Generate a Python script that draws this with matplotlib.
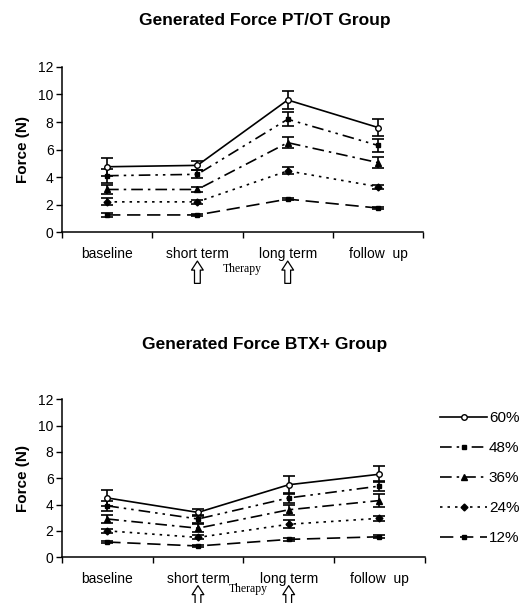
import matplotlib.pyplot as plt

plt.rcParams['font.family'] = ['Liberation Sans', 'DejaVu Sans']

categories = ['baseline', 'short term', 'long term', 'follow  up']
series_names = ['60%', '48%', '36%', '24%', '12%']

# PT/OT group: mean force and error per intensity
ptot_means = [
    [4.75, 4.85, 9.6, 7.6],
    [4.1, 4.2, 8.2, 6.3],
    [3.1, 3.1, 6.5, 5.05],
    [2.2, 2.2, 4.45, 3.3],
    [1.25, 1.25, 2.4, 1.75],
]
ptot_errors = [
    [0.65, 0.35, 0.65, 0.65],
    [0.5, 0.3, 0.5, 0.5],
    [0.35, 0.2, 0.4, 0.4],
    [0.25, 0.15, 0.25, 0.15],
    [0.15, 0.1, 0.1, 0.1],
]

# BTX+ group
btx_means = [
    [4.5, 3.4, 5.5, 6.3],
    [3.9, 2.9, 4.5, 5.4],
    [2.9, 2.2, 3.6, 4.3],
    [2.0, 1.5, 2.5, 2.95],
    [1.15, 0.85, 1.35, 1.55],
]
btx_errors = [
    [0.6, 0.25, 0.7, 0.6],
    [0.4, 0.3, 0.4, 0.4],
    [0.3, 0.3, 0.4, 0.5],
    [0.15, 0.15, 0.3, 0.2],
    [0.1, 0.1, 0.1, 0.1],
]

STYLES = [
    dict(ls='-', marker='o', mfc='white', ms=4),
    dict(ls=(0, (7, 3, 1.5, 3, 1.5, 3)), marker='s', mfc='black', ms=3),
    dict(ls=(0, (7, 3, 1.5, 3)), marker='^', mfc='black', ms=4.5),
    dict(ls=(0, (1.5, 3)), marker='D', mfc='black', ms=3.5),
    dict(ls=(0, (8, 4)), marker='s', mfc='black', ms=3.5),
]


def draw_group(ax, title, means, errors, title_y):
    xs = [i + 0.5 for i in range(len(categories))]
    handles = []
    for name, ys, errs, style in zip(series_names, means, errors, STYLES):
        h = ax.errorbar(xs, ys, yerr=errs, color='black', lw=1.2,
                        ls=style['ls'], marker=style['marker'],
                        mfc=style['mfc'], mec='black', ms=style['ms'],
                        capsize=4, elinewidth=1.2, capthick=1.2, label=name)
        handles.append(h)

    ax.set_xlim(0, 4)
    ax.set_ylim(0, 12)
    ax.set_yticks(range(0, 13, 2))
    ax.set_xticks(range(0, 5))
    ax.set_xticklabels([])
    ax.set_xticks(xs, minor=True)
    ax.set_xticklabels(categories, minor=True)
    ax.tick_params(axis='x', which='minor', length=0, pad=11, labelsize=10)
    ax.tick_params(axis='x', which='major', length=4, direction='out', width=1)
    ax.tick_params(axis='y', length=4, width=1, labelsize=10, pad=2)
    for side in ('top', 'right'):
        ax.spines[side].set_visible(False)
    for side in ('left', 'bottom'):
        ax.spines[side].set_linewidth(1.1)
    ax.set_ylabel('Force (N)', fontsize=11, fontweight='bold', labelpad=6)
    ax.figure.text(0.5, title_y, title, ha='center', va='center',
                   fontsize=12.5, fontweight='bold')
    return handles


def draw_therapy(ax, arrow_top, arrow_bottom, text_x, text_y):
    for x in (1.5, 2.5):
        ax.annotate('', xy=(x, arrow_top), xytext=(x, arrow_bottom),
                    xycoords=('data', 'axes fraction'),
                    textcoords=('data', 'axes fraction'),
                    arrowprops=dict(arrowstyle='simple,head_length=0.5,head_width=0.65,tail_width=0.32',
                                    mutation_scale=13, shrinkA=0, shrinkB=0,
                                    fc='white', ec='black', lw=0.9),
                    annotation_clip=False)
    ax.text(text_x, text_y, 'Therapy', transform=ax.get_xaxis_transform(),
            ha='center', va='center', fontsize=8.5,
            family=['Liberation Serif', 'DejaVu Serif'])


fig = plt.figure(figsize=(5.29, 6.03), dpi=100)

ax1 = fig.add_axes([0.117, 0.615, 0.683, 0.274])
draw_group(ax1, 'Generated Force PT/OT Group', ptot_means, ptot_errors, 0.966)
draw_therapy(ax1, -0.175, -0.31, 2.0, -0.22)

ax2 = fig.add_axes([0.117, 0.076, 0.686, 0.262])
handles = draw_group(ax2, 'Generated Force BTX+ Group', btx_means, btx_errors, 0.428)
draw_therapy(ax2, -0.18, -0.31, 2.05, -0.2)

fig.legend(handles=[h[0] for h in handles], labels=series_names,
           loc='upper left', bbox_to_anchor=(0.82, 0.328), frameon=False,
           fontsize=11, handlelength=3.1, handletextpad=0.1,
           labelspacing=1.05, borderaxespad=0)

fig.savefig('out.png', dpi=100)
